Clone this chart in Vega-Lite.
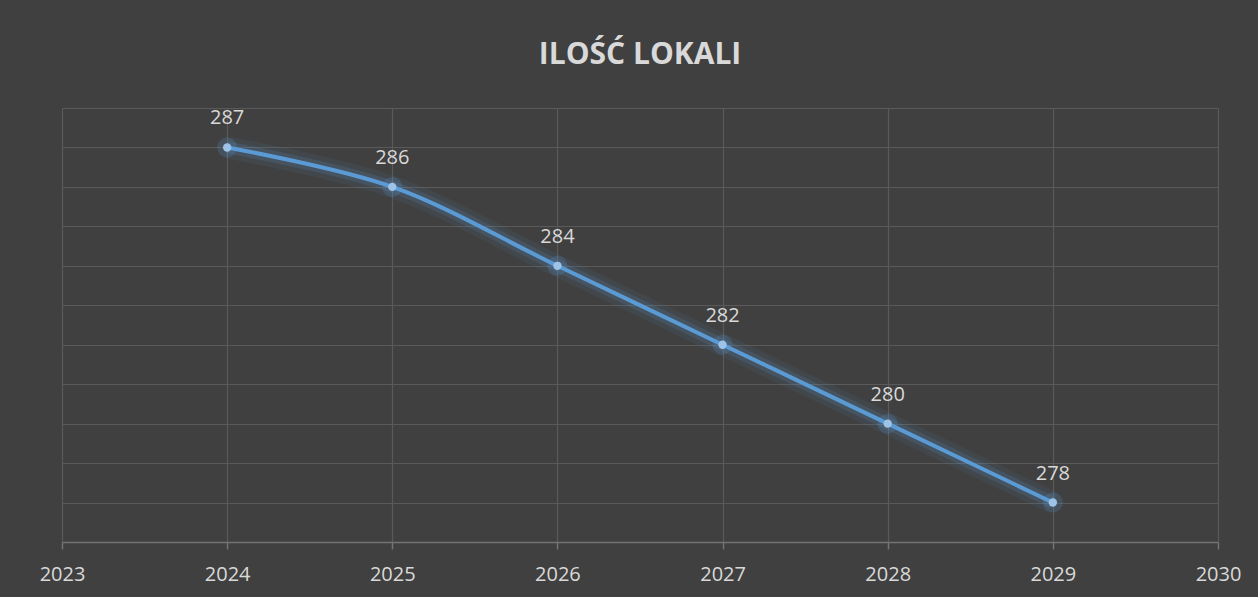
{
  "$schema": "https://vega.github.io/schema/vega-lite/v6.json",
  "autosize": {"type": "none"},
  "width": 1156,
  "height": 434,
  "padding": {"left": 62, "top": 108, "right": 40, "bottom": 55},
  "background": "#404040",
  "config": {
    "view": {"stroke": null},
    "font": "Open Sans"
  },
  "title": {
    "text": "ILOŚĆ LOKALI",
    "font": "Open Sans",
    "fontSize": 30,
    "fontWeight": "bold",
    "color": "#d9d9d9",
    "anchor": "middle",
    "frame": "group",
    "baseline": "alphabetic",
    "offset": 9
  },
  "data": {
    "values": [
      {"year": 2024, "count": 287},
      {"year": 2025, "count": 286},
      {"year": 2026, "count": 284},
      {"year": 2027, "count": 282},
      {"year": 2028, "count": 280},
      {"year": 2029, "count": 278}
    ]
  },
  "encoding": {
    "x": {
      "field": "year",
      "type": "quantitative",
      "scale": {"domain": [2023, 2030], "nice": false, "zero": false},
      "axis": {
        "title": null,
        "values": [2023, 2024, 2025, 2026, 2027, 2028, 2029, 2030],
        "format": "d",
        "grid": true,
        "gridColor": "#5a5a5a",
        "gridWidth": 1.2,
        "domainColor": "#737373",
        "domainWidth": 1.5,
        "tickColor": "#737373",
        "tickWidth": 1.5,
        "tickSize": 7,
        "labelFont": "Open Sans",
        "labelFontSize": 20,
        "labelColor": "#d9d9d9",
        "labelBaseline": "alphabetic",
        "labelPadding": 31,
        "labelFlush": false
      }
    },
    "y": {
      "field": "count",
      "type": "quantitative",
      "scale": {"domain": [277, 288], "nice": false, "zero": false},
      "axis": {
        "title": null,
        "values": [277, 278, 279, 280, 281, 282, 283, 284, 285, 286, 287, 288],
        "labels": false,
        "ticks": false,
        "domain": false,
        "grid": true,
        "gridColor": "#5a5a5a",
        "gridWidth": 1.2
      }
    }
  },
  "layer": [
    {"mark": {"type": "line", "interpolate": "catmull-rom", "color": "#5b9bd5", "strokeWidth": 22, "opacity": 0.08}},
    {"mark": {"type": "line", "interpolate": "catmull-rom", "color": "#5b9bd5", "strokeWidth": 12, "opacity": 0.15}},
    {"mark": {"type": "line", "interpolate": "catmull-rom", "color": "#5b9bd5", "strokeWidth": 4}},
    {"mark": {"type": "circle", "color": "#5b9bd5", "size": 400, "opacity": 0.2}},
    {"mark": {"type": "circle", "color": "#9dc3e6", "size": 70, "opacity": 1}},
    {
      "mark": {"type": "text", "font": "Open Sans", "fontSize": 20, "color": "#d9d9d9", "baseline": "alphabetic", "align": "center", "dy": -23},
      "encoding": {"text": {"field": "count", "type": "quantitative"}}
    }
  ]
}
